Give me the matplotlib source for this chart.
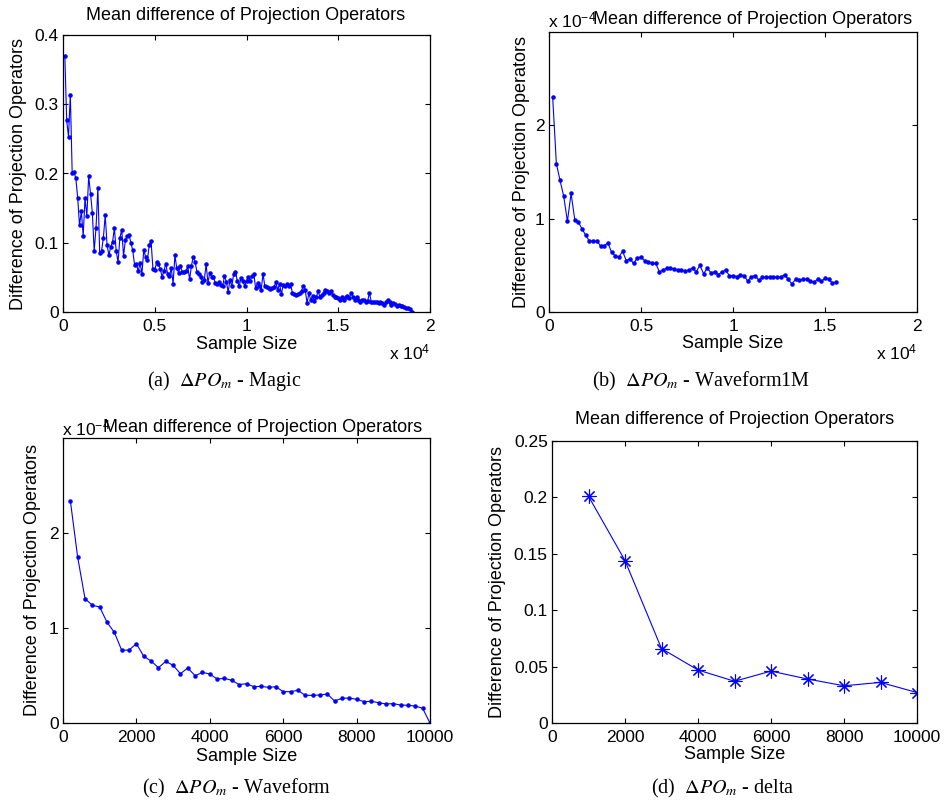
import numpy as np
import matplotlib
matplotlib.use("Agg")
import matplotlib.pyplot as plt
from matplotlib.ticker import FuncFormatter

plt.rcParams['font.family'] = ['Liberation Sans', 'DejaVu Sans']
plt.rcParams['mathtext.fontset'] = 'custom'
plt.rcParams['mathtext.rm'] = 'Liberation Sans'
plt.rcParams['mathtext.it'] = 'Liberation Sans:italic'

# (a) Magic: sample sizes 100 .. 19000
magic_n = np.arange(100, 19001, 100)
magic_diff = [
    0.370, 0.277, 0.253, 0.314, 0.201, 0.202, 0.193, 0.165, 0.125, 0.146,
    0.110, 0.164, 0.139, 0.196, 0.171, 0.143, 0.088, 0.122, 0.179, 0.085,
    0.088, 0.107, 0.140, 0.097, 0.082, 0.094, 0.101, 0.121, 0.088, 0.072,
    0.107, 0.119, 0.081, 0.104, 0.110, 0.111, 0.100, 0.089, 0.068, 0.069,
    0.059, 0.071, 0.055, 0.089, 0.080, 0.075, 0.097, 0.103, 0.062, 0.060,
    0.072, 0.070, 0.062, 0.051, 0.059, 0.070, 0.055, 0.052, 0.063, 0.041,
    0.082, 0.063, 0.057, 0.066, 0.058, 0.058, 0.059, 0.066, 0.047, 0.067,
    0.080, 0.072, 0.058, 0.055, 0.051, 0.044, 0.046, 0.069, 0.042, 0.057,
    0.051, 0.050, 0.042, 0.040, 0.044, 0.039, 0.037, 0.052, 0.044, 0.029,
    0.046, 0.037, 0.055, 0.058, 0.045, 0.037, 0.049, 0.045, 0.038, 0.045,
    0.050, 0.045, 0.052, 0.055, 0.034, 0.042, 0.038, 0.032, 0.055, 0.037,
    0.036, 0.034, 0.033, 0.034, 0.036, 0.043, 0.032, 0.041, 0.026, 0.039,
    0.037, 0.040, 0.038, 0.040, 0.028, 0.026, 0.025, 0.026, 0.027, 0.031,
    0.038, 0.032, 0.013, 0.027, 0.017, 0.023, 0.016, 0.021, 0.030, 0.022,
    0.025, 0.028, 0.032, 0.031, 0.028, 0.031, 0.025, 0.022, 0.022, 0.020,
    0.018, 0.022, 0.017, 0.021, 0.023, 0.020, 0.028, 0.021, 0.018, 0.022,
    0.018, 0.015, 0.018, 0.017, 0.014, 0.016, 0.027, 0.015, 0.015, 0.014,
    0.015, 0.013, 0.015, 0.013, 0.010, 0.014, 0.018, 0.015, 0.010, 0.013,
    0.012, 0.009, 0.010, 0.008, 0.009, 0.007, 0.006, 0.006, 0.005, 0.0005,
]

# (b) Waveform1M: sample sizes 200 .. 15600, values in units of 1e-4
wf1m_n = np.arange(200, 15601, 200)
wf1m_diff = [
    2.30, 1.59, 1.41, 1.24, 0.97, 1.27, 0.99, 0.96, 0.89, 0.82,
    0.76, 0.76, 0.76, 0.71, 0.71, 0.74, 0.64, 0.60, 0.59, 0.65,
    0.55, 0.57, 0.52, 0.58, 0.59, 0.55, 0.54, 0.52, 0.52, 0.43,
    0.45, 0.47, 0.47, 0.46, 0.45, 0.45, 0.44, 0.45, 0.47, 0.43,
    0.50, 0.41, 0.47, 0.42, 0.43, 0.40, 0.43, 0.45, 0.39, 0.39,
    0.38, 0.40, 0.39, 0.33, 0.38, 0.39, 0.34, 0.37, 0.37, 0.38,
    0.38, 0.37, 0.375, 0.40, 0.35, 0.30, 0.35, 0.34, 0.35, 0.35,
    0.33, 0.32, 0.35, 0.33, 0.36, 0.35, 0.31, 0.32,
]

# (c) Waveform: sample sizes 200 .. 10000, values in units of 1e-4
wf_n = np.arange(200, 10001, 200)
wf_diff = [
    2.34, 1.744, 1.309, 1.239, 1.221, 1.06, 0.954, 0.765, 0.768, 0.835,
    0.702, 0.653, 0.582, 0.649, 0.607, 0.519, 0.579, 0.498, 0.533, 0.516,
    0.463, 0.470, 0.449, 0.404, 0.414, 0.382, 0.386, 0.375, 0.382, 0.330,
    0.330, 0.344, 0.291, 0.291, 0.295, 0.305, 0.232, 0.260, 0.263, 0.249,
    0.225, 0.228, 0.214, 0.200, 0.204, 0.189, 0.186, 0.179, 0.154, 0.0,
]

# (d) delta
delta_n = [1000, 2000, 3000, 4000, 5000, 6000, 7000, 8000, 9000, 10000]
delta_diff = [0.201, 0.144, 0.066, 0.047, 0.037, 0.046, 0.039, 0.033, 0.036, 0.027]

title = 'Mean difference of Projection Operators'
ylab = 'Difference of Projection Operators'
xlab = 'Sample Size'

W, H = 947, 806
fig = plt.figure(figsize=(W / 100, H / 100), dpi=100)


def box(l, t, r, b):
    return [l / W, 1 - b / H, (r - l) / W, (b - t) / H]


def ftext(x, y, s, **kw):
    return fig.text(x / W, 1 - y / H, s, **kw)


def style(ax, ylab_x, xlab_y):
    ax.tick_params(direction='in', length=3.5, width=0.8, top=True, right=True,
                   labelsize=12.5, colors='black')
    ax.tick_params(axis='x', pad=5)
    ax.tick_params(axis='y', pad=3)
    for s in ax.spines.values():
        s.set_linewidth(0.9)
    ax.set_xlabel(xlab, fontsize=13)
    ax.set_ylabel(ylab, fontsize=13)
    ax.xaxis.set_label_coords(0.5, xlab_y)
    ax.xaxis.label.set_va('center')
    ax.yaxis.set_label_coords(ylab_x, 0.5)
    ax.yaxis.label.set_va('center')


line_kw = dict(color='#0000ff', lw=0.8, marker='.', ms=4.5)
e4 = FuncFormatter(lambda v, _: '%g' % round(v / 1e4, 6))
em4 = FuncFormatter(lambda v, _: '%g' % round(v / 1e-4, 6))
plain = FuncFormatter(lambda v, _: '%g' % round(v, 6))

# (a)
ax = fig.add_axes(box(63, 35, 430, 312))
ax.plot(magic_n, magic_diff, **line_kw)
ax.set_xlim(0, 20000)
ax.set_ylim(0, 0.4)
ax.set_xticks([0, 5000, 10000, 15000, 20000])
ax.set_yticks([0, 0.1, 0.2, 0.3, 0.4])
ax.xaxis.set_major_formatter(e4)
ax.yaxis.set_major_formatter(plain)
style(ax, -0.12, -0.119)
ftext(246, 15, title, fontsize=13, ha='center', va='center')
ftext(430, 352, r'x $10^{4}$', fontsize=12.5, ha='right', va='center')

# (b)
ax = fig.add_axes(box(549, 32, 917, 312))
ax.plot(wf1m_n, np.array(wf1m_diff) * 1e-4, **line_kw)
ax.set_xlim(0, 20000)
ax.set_ylim(0, 3e-4)
ax.set_xticks([0, 5000, 10000, 15000, 20000])
ax.set_yticks([0, 1e-4, 2e-4])
ax.xaxis.set_major_formatter(e4)
ax.yaxis.set_major_formatter(em4)
style(ax, -0.076, -0.111)
ftext(753, 20, title, fontsize=13, ha='center', va='center')
ftext(548, 20, r'x $10^{-4}$', fontsize=12.5, ha='left', va='center')
ftext(917, 352, r'x $10^{4}$', fontsize=12.5, ha='right', va='center')

# (c)
ax = fig.add_axes(box(63, 438, 430, 723))
ax.plot(wf_n, np.array(wf_diff) * 1e-4, **line_kw)
ax.set_xlim(0, 10000)
ax.set_ylim(0, 3e-4)
ax.set_xticks(range(0, 10001, 2000))
ax.set_yticks([0, 1e-4, 2e-4])
ax.xaxis.set_major_formatter(plain)
ax.yaxis.set_major_formatter(em4)
style(ax, -0.082, -0.116)
ftext(263, 428, title, fontsize=13, ha='center', va='center')
ftext(62, 428, r'x $10^{-4}$', fontsize=12.5, ha='left', va='center')

# (d)
ax = fig.add_axes(box(552, 441, 917, 723))
ax.plot(delta_n, delta_diff, color='#0000ff', lw=0.8, marker=(8, 2, 0), ms=10, mew=0.8)
ax.set_xlim(0, 10000)
ax.set_ylim(0, 0.25)
ax.set_xticks(range(0, 10001, 2000))
ax.set_yticks([0, 0.05, 0.1, 0.15, 0.2, 0.25])
ax.xaxis.set_major_formatter(plain)
ax.yaxis.set_major_formatter(plain)
style(ax, -0.148, -0.113)
ftext(735, 420, title, fontsize=13, ha='center', va='center')

# sub-figure captions
cap_kw = dict(fontsize=14.5, ha='center', va='center', family='Liberation Serif',
              math_fontfamily='stix')
ftext(224, 381, r'(a)  $\Delta PO_m$ - Magic', **cap_kw)
ftext(701, 381, r'(b)  $\Delta PO_m$ - Waveform1M', **cap_kw)
ftext(237, 788, r'(c)  $\Delta PO_m$ - Waveform', **cap_kw)
ftext(723, 788, r'(d)  $\Delta PO_m$ - delta', **cap_kw)

fig.savefig('out.png', dpi=100)
